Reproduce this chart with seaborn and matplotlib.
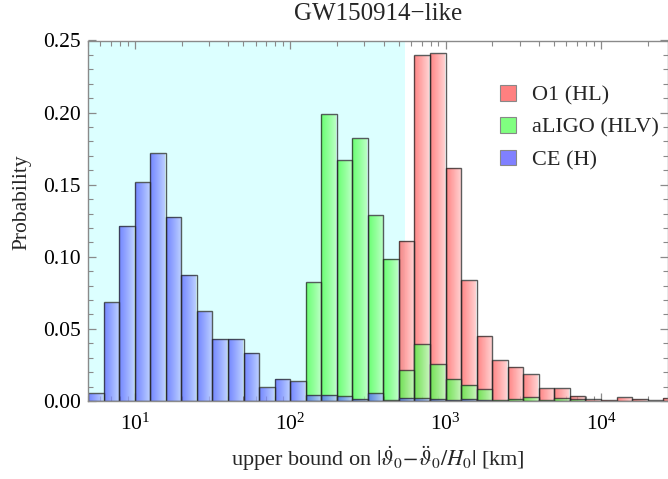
import numpy as np
import pandas as pd
import matplotlib
matplotlib.use("Agg")
import matplotlib.pyplot as plt
import seaborn as sns
from matplotlib.colors import LinearSegmentedColormap
from matplotlib.patches import Patch
from matplotlib.ticker import MultipleLocator, FormatStrFormatter, LogLocator

# ---------------- data ----------------
series_labels = ["O1 (HL)", "aLIGO (HLV)", "CE (H)"]
# log10 of the lower edge of each series' first bin; bins are 0.1 dex wide
o1_first_bin = 2.7
aligo_first_bin = 2.1
ce_first_bin = 0.7
bin_width_dex = 0.1
o1_prob = [0.1112, 0.2396, 0.2412, 0.1617, 0.0837, 0.0451, 0.0284, 0.0236,
           0.0187, 0.0088, 0.0088, 0.0037, 0.0012, 0.0007, 0.0025, 0.0014,
           0.0005, 0.0023]
aligo_prob = [0.0823, 0.1989, 0.1670, 0.1822, 0.1288, 0.0988, 0.0213, 0.0395,
              0.0254, 0.0153, 0.0111, 0.0081, 0.0010, 0.0016, 0.0025, 0.0007,
              0.0020, 0.0012]
ce_prob = [0.0053, 0.0685, 0.1216, 0.1517, 0.1718, 0.1277, 0.0874, 0.0624,
           0.0432, 0.0432, 0.0335, 0.0095, 0.0155, 0.0136, 0.0044, 0.0044,
           0.0032, 0.0014, 0.0053, 0.0005, 0.0023, 0.0020, 0.0014, 0.0010,
           0.0014, 0.0010]
shaded_region = (5.0, 548.0)      # light-cyan band (km)
x_limits = (5.0, 27000.0)
y_limits = (0.0, 0.25)
title = "GW150914\u2212like"
xlabel = r"upper bound on $|\dot{\vartheta}_0\!-\!\ddot{\vartheta}_0/H_0|$ [km]"
ylabel = "Probability"

# ---------------- styling ----------------
sns.set_style("ticks")
plt.rcParams["font.family"] = ["Liberation Serif", "DejaVu Serif"]
plt.rcParams["mathtext.fontset"] = "stix"
plt.rcParams["font.size"] = 15

colors_left = {"O1 (HL)": (1.0, 0.38, 0.38),
               "aLIGO (HLV)": (0.28, 1.0, 0.28),
               "CE (H)": (0.33, 0.38, 1.0)}
colors_right = {"O1 (HL)": (1.0, 0.80, 0.80),
                "aLIGO (HLV)": (0.72, 1.0, 0.72),
                "CE (H)": (0.72, 0.78, 1.0)}
legend_colors = {"O1 (HL)": "#ff8080", "aLIGO (HLV)": "#80ff80", "CE (H)": "#8080ff"}
fill_alpha = 0.75

def make_frame(label, first, probs):
    centers = 10 ** (first + bin_width_dex * (np.arange(len(probs)) + 0.5))
    return pd.DataFrame({"x": centers, "prob": probs, "series": label})

df = pd.concat([make_frame("O1 (HL)", o1_first_bin, o1_prob),
                make_frame("aLIGO (HLV)", aligo_first_bin, aligo_prob),
                make_frame("CE (H)", ce_first_bin, ce_prob)], ignore_index=True)

edges_dex = [round(v, 2) for v in np.arange(0.7, 4.5 + 1e-9, bin_width_dex)]

fig = plt.figure(figsize=(6.68, 4.79), dpi=100)
ax = fig.add_axes([88 / 668, 1 - 401 / 479, 580 / 668, (401 - 40.5) / 479])

ax.axvspan(*shaded_region, color="#dcffff", zorder=0, lw=0)

gradient = np.linspace(0, 1, 64).reshape(1, -1)
z = 1.0
for label in series_labels:
    sub = df[df["series"] == label]
    n_before = len(ax.patches)
    sns.histplot(data=sub, x="x", weights="prob", bins=edges_dex, log_scale=True,
                 stat="count", element="bars", fill=True, ax=ax,
                 color=legend_colors[label], edgecolor=(0.15, 0.15, 0.15, 0.75),
                 linewidth=1.0, legend=False)
    new_patches = ax.patches[n_before:]
    cmap = LinearSegmentedColormap.from_list(label, [colors_left[label], colors_right[label]])
    for p in new_patches:
        h = p.get_height()
        if h <= 0:
            p.remove()
            continue
        x0 = p.get_x()
        x1 = x0 + p.get_width()
        im = ax.imshow(gradient, extent=[x0, x1, 0, h], cmap=cmap, aspect="auto",
                       alpha=fill_alpha, interpolation="bilinear", zorder=z)
        im.set_clip_path(p)
        p.set_facecolor((0, 0, 0, 0))
        p.set_zorder(z + 0.05)
    z += 0.1

ax.set_xscale("log")
ax.set_xlim(*x_limits)
ax.set_ylim(*y_limits)
ax.set_aspect("auto")

ax.yaxis.set_major_locator(MultipleLocator(0.05))
ax.yaxis.set_minor_locator(MultipleLocator(0.01))
ax.yaxis.set_major_formatter(FormatStrFormatter("%.2f"))
ax.xaxis.set_major_locator(LogLocator(base=10, numticks=10))
ax.xaxis.set_minor_locator(LogLocator(base=10, subs=np.arange(2, 10), numticks=20))

spine_col = "#8a8a8a"
for s in ax.spines.values():
    s.set_color(spine_col)
    s.set_linewidth(1.0)
    s.set_visible(True)
ax.tick_params(which="both", direction="in", top=True, right=True, color=spine_col,
               labelsize=15.5, labelcolor="black")
ax.tick_params(which="major", length=6, width=0.9)
ax.tick_params(which="minor", length=3.5, width=0.8)
ax.tick_params(axis="x", which="major", pad=9)
ax.tick_params(axis="y", which="major", pad=5)

ax.set_title(title, fontsize=18, pad=14.5)
ax.set_xlabel(xlabel, fontsize=16, labelpad=7)
ax.set_ylabel(ylabel, fontsize=15.5)
ax.yaxis.set_label_coords(-0.098, 0.552)

handles = [Patch(facecolor=legend_colors[l], edgecolor="#888888", linewidth=0.8, label=l)
           for l in series_labels]
ax.legend(handles=handles, loc="upper left", bbox_to_anchor=(500 / 668, 1 - 85 / 479),
          bbox_transform=fig.transFigure, frameon=False, borderpad=0, borderaxespad=0,
          fontsize=16, handlelength=0.7, handleheight=0.7, handletextpad=0.72,
          labelspacing=0.53)

fig.savefig("out.png", dpi=100)
